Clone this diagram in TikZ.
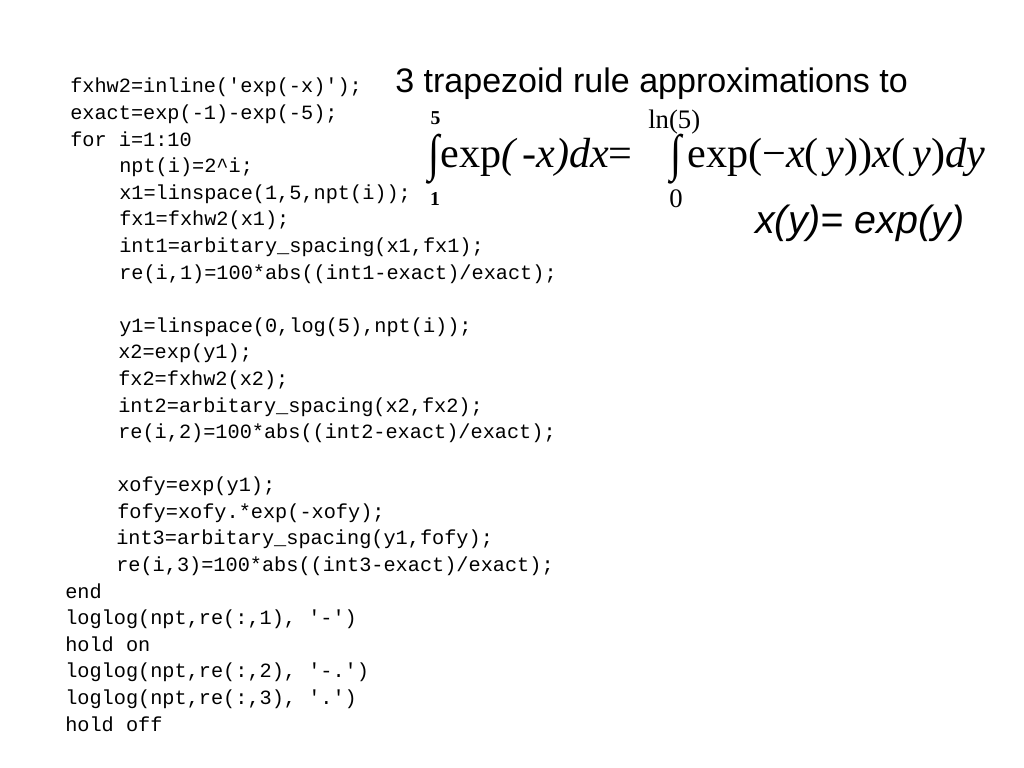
\documentclass[tikz,border=0pt]{standalone}
\usepackage{fontspec}
\setmainfont{Liberation Serif}
\setsansfont{Liberation Sans}
\setmonofont{Liberation Mono}
\usepackage{graphicx}

\tikzset{
  code/.style={anchor=base west, inner sep=0pt, font=\ttfamily\fontsize{14.4}{17}\selectfont},
  heading/.style={anchor=base west, inner sep=0pt, font=\sffamily\fontsize{24.2}{28}\selectfont},
  formula/.style={anchor=base west, inner sep=0pt, font=\rmfamily\fontsize{30}{34}\selectfont},
  bound/.style={anchor=base, inner sep=0pt, font=\rmfamily\fontsize{19}{22}\selectfont},
  boldbound/.style={bound, font=\rmfamily\bfseries\fontsize{14}{17}\selectfont},
  intsign/.style={anchor=base west, inner sep=0pt, font=\rmfamily\fontsize{29}{34}\selectfont}
}

\begin{document}
\begin{tikzpicture}[x=0.025cm, y=-0.025cm]
    \useasboundingbox[fill=white] (0,0) rectangle (1024,768);
    % matlab listing
    \node[code] (l1) at (70, 93) {fxhw2=inline('exp(-x)');};
    \node[code] (l2) at (70, 119.6) {exact=exp(-1)-exp(-5);};
    \node[code] (l3) at (70, 146.2) {for i=1:10};
    \node[code] (l4) at (119, 172.7) {npt(i)=2\textasciicircum i;};
    \node[code] (l5) at (119, 199.3) {x1=linspace(1,5,npt(i));};
    \node[code] (l6) at (119, 225.9) {fx1=fxhw2(x1);};
    \node[code] (l7) at (119, 252.5) {int1=arbitary\_spacing(x1,fx1);};
    \node[code] (l8) at (119, 279.1) {re(i,1)=100*abs((int1-exact)/exact);};
    \node[code] (l10) at (119, 332.2) {y1=linspace(0,log(5),npt(i));};
    \node[code] (l11) at (118, 358.8) {x2=exp(y1);};
    \node[code] (l12) at (118, 385.4) {fx2=fxhw2(x2);};
    \node[code] (l13) at (118, 412) {int2=arbitary\_spacing(x2,fx2);};
    \node[code] (l14) at (118, 438.6) {re(i,2)=100*abs((int2-exact)/exact);};
    \node[code] (l16) at (117, 491.7) {xofy=exp(y1);};
    \node[code] (l17) at (117, 518.3) {fofy=xofy.*exp(-xofy);};
    \node[code] (l18) at (116, 544.9) {int3=arbitary\_spacing(y1,fofy);};
    \node[code] (l19) at (116, 571.5) {re(i,3)=100*abs((int3-exact)/exact);};
    \node[code] (l20) at (65, 598.1) {end};
    \node[code] (l21) at (65, 624.6) {loglog(npt,re(:,1), '-')};
    \node[code] (l22) at (65, 651.2) {hold on};
    \node[code] (l23) at (65, 677.8) {loglog(npt,re(:,2), '-.')};
    \node[code] (l24) at (65, 704.4) {loglog(npt,re(:,3), '.')};
    \node[code] (l25) at (65, 731) {hold off};
    % title and formula
    \node[heading] (title) at (395, 93) {3 trapezoid rule approximations to};
    \node[intsign] (int1) at (428, 171) {\scalebox{1}[1.25]{∫}};
    \node[formula] (lhs) at (440, 168) {exp\textit{(\,-x)dx}=};
    \node[boldbound] (up1) at (435.5, 125) {5};
    \node[boldbound] (lo1) at (435, 205) {1};
    \node[intsign] (int2) at (670, 171) {\scalebox{1}[1.25]{∫}};
    \node[formula] (rhs) at (687, 168) {exp(−\textit{x}(\,\textit{y}))\textit{x}(\,\textit{y})\textit{dy}};
    \node[bound, anchor=base west] (up2) at (648, 129) {ln(5)};
    \node[bound] (lo2) at (676, 207) {0};
    \node[heading, font=\sffamily\itshape\fontsize{28}{32}\selectfont] (subst) at (755, 233) {x(y)= exp(y)};
\end{tikzpicture}
\end{document}
